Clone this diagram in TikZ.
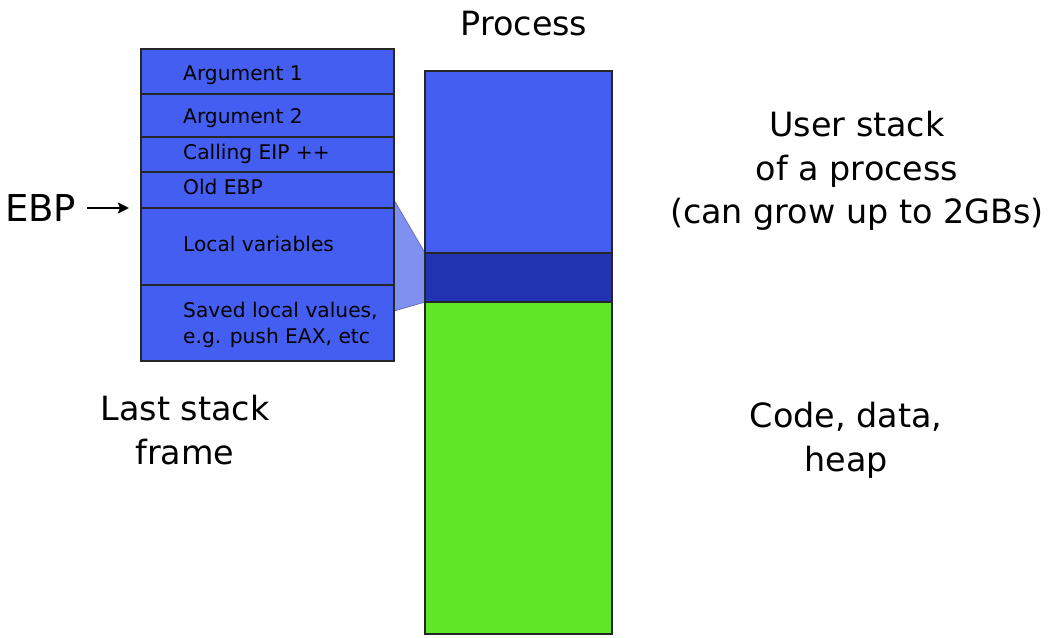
\documentclass[tikz,border=0pt]{standalone}
\usepackage{fontspec}
\setmainfont{DejaVu Sans}
\usetikzlibrary{arrows.meta}
\pgfdeclarelayer{background}
\pgfsetlayers{background,main}
\definecolor{stackblue}{RGB}{69,94,242}
\definecolor{framedark}{RGB}{34,51,178}
\definecolor{heapgreen}{RGB}{96,230,38}
\definecolor{zoomfill}{RGB}{128,144,240}
\definecolor{zoomedge}{RGB}{100,110,190}
\begin{document}
\begin{tikzpicture}[x=1pt,y=-1pt,
  cell/.style={draw=black!85, line width=1.2pt, fill=stackblue, inner sep=0pt, outer sep=0pt,
    anchor=north west, minimum width=253pt},
  pcell/.style={draw=black!85, line width=1.2pt, inner sep=0pt, outer sep=0pt,
    anchor=north west, minimum width=187pt},
  small/.style={inner sep=0pt, font=\fontsize{20.2}{26}\selectfont, anchor=base west, align=left},
  big/.style={inner sep=0pt, font=\fontsize{33.4}{43.5}\selectfont, anchor=base, align=center},
  ebparrow/.style={line width=2.2pt, -{Stealth[length=11pt,width=11pt,inset=2pt]}}
]
\useasboundingbox (0,0) rectangle (1059,637);
% stack frame rows
\node[cell, minimum height=45pt] (r1) at (141,49) {};
\node[cell, minimum height=43pt] (r2) at (141,94) {};
\node[cell, minimum height=35pt] (r3) at (141,137) {};
\node[cell, minimum height=36pt] (r4) at (141,172) {};
\node[cell, minimum height=77pt] (r5) at (141,208) {};
\node[cell, minimum height=76pt] (r6) at (141,285) {};
% process column
\node[pcell, fill=stackblue, minimum height=182pt] (ptop) at (425,71) {};
\node[pcell, fill=framedark, minimum height=49pt] (pmid) at (425,253) {};
\node[pcell, fill=heapgreen, minimum height=332pt] (pbot) at (425,302) {};
% zoom wedge
\begin{pgfonlayer}{background}
\filldraw[fill=zoomfill, draw=zoomedge, line width=0.8pt]
  ([yshift=8pt]r5.north east) -- (pmid.north west) -- (pmid.south west) -- ([yshift=-26pt]r6.north east) -- cycle;
\end{pgfonlayer}
% frame texts
\node[small] (t1) at (183,80.7) {Argument 1};
\node[small] (t2) at (183,123) {Argument 2};
\node[small] (t3) at (183,159) {Calling EIP ++};
\node[small] (t4) at (183,194) {Old EBP};
\node[small] (t5) at (183,251) {Local variables};
\node[small] (t6) at (183,343) {Saved local values,\\e.g. push EAX, etc};
% EBP pointer
\node[inner sep=0pt, anchor=west, font=\fontsize{37}{44}\selectfont] (ebp) at (5,208) {EBP};
\draw[ebparrow] ([xshift=11pt]ebp.east) -- ([xshift=-12pt]r5.north west);
% labels
\node[big] (proc) at (524,35) {Process};
\node[big] (ustack) at (857,223.5) {User stack\\of a process\\(can grow up to 2GBs)};
\node[big] (last) at (185,464) {Last stack\\frame};
\node[big] (code) at (846,471) {Code, data,\\heap};
\end{tikzpicture}
\end{document}
